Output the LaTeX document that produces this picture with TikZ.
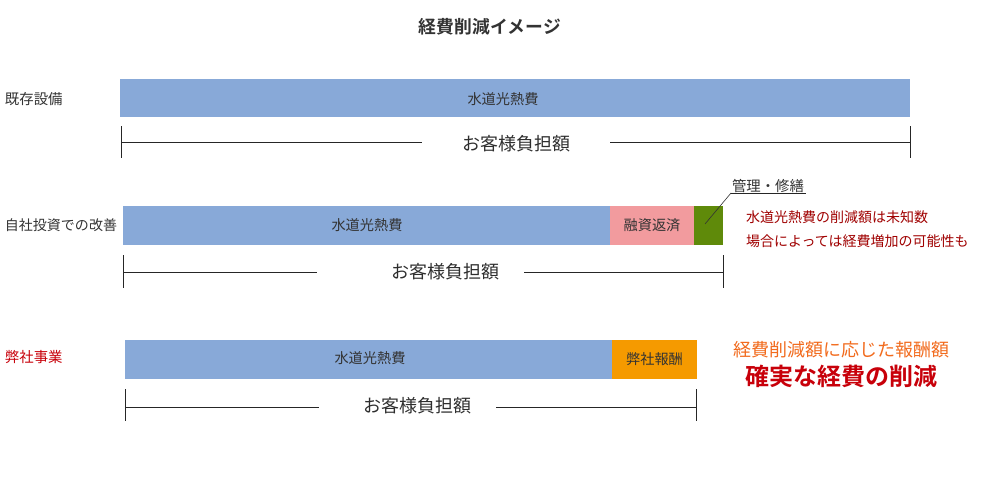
\documentclass[tikz,border=0pt]{standalone}
\usepackage{fontspec}
\newfontfamily\jp{Noto Sans CJK JP}
\newfontfamily\jpb{Noto Sans CJK JP Bold}
\definecolor{barblue}{HTML}{88A9D8}
\definecolor{barpink}{HTML}{F29B9E}
\definecolor{bargreen}{HTML}{5F8A0A}
\definecolor{barorange}{HTML}{F59A00}
\definecolor{txt}{HTML}{333333}
\definecolor{dred}{HTML}{A00000}
\definecolor{myred}{HTML}{C8000A}
\definecolor{myorange}{HTML}{F26B1D}
\begin{document}
\begin{tikzpicture}[x=1pt,y=-1pt,
  every node/.style={inner sep=0pt,outer sep=0pt,text=txt,font=\jp\fontsize{14.2}{16}\selectfont},
  barbox/.style={draw=none,minimum height=38.5pt,anchor=north west},
  bartext/.style={font=\jp\fontsize{14.2}{16}\selectfont},
  rowlabel/.style={anchor=west,font=\jp\fontsize{14.4}{16}\selectfont},
  totlabel/.style={font=\jp\fontsize{18}{20}\selectfont,text=txt!90!black},
  dimline/.style={draw=black!85,line width=1pt}]
\useasboundingbox (0,0) rectangle (1000,500);
\fill[white] (0,0) rectangle (1000,500);
\node (title) at (490,27) {\jpb\fontsize{17.8}{20}\selectfont 経費削減イメージ};

% row 1
\node[rowlabel] (l1) at (5,99) {既存設備};
\node[barbox,fill=barblue,minimum width=790pt] (b1) at (120,79) {};
\node[bartext] at (503,99) {水道光熱費};
\coordinate (d1a) at (121,126);
\coordinate (d1b) at (121,158);
\coordinate (d1c) at (910,126);
\coordinate (d1d) at (910,158);
\node[totlabel] (t1) at (516,144) {お客様負担額};
\draw[dimline] (d1a) -- (d1b) (d1c) -- (d1d);
\draw[dimline] (121,142) -- (422,142) (610,142) -- (910,142);

% row 2
\node[rowlabel,font=\jp\fontsize{14}{16}\selectfont] (l2) at (5,225) {自社投資での改善};
\node[barbox,fill=barblue,minimum width=487pt] (b2) at (123,206) {};
\node[barbox,fill=barpink,minimum width=84pt] (b2p) at (610,206) {};
\node[barbox,fill=bargreen,minimum width=29pt] (b2g) at (694,206) {};
\node[bartext] at (367,225) {水道光熱費};
\node[bartext] at (b2p.center) {融資返済};
\node[anchor=west,font=\jp\fontsize{14.4}{16}\selectfont] (kanri) at (732,186) {管理・修繕};
\coordinate (k1) at (705,224);
\coordinate (k2) at (731,193);
\coordinate (k3) at (806,193);
\draw[black!80,line width=0.6pt] (k1) -- (k2);
\draw[black!85,line width=1pt] (k2) -- (k3);
\node[anchor=west,text=dred,font=\jp\fontsize{14}{16}\selectfont] (n1) at (746,217) {水道光熱費の削減額は未知数};
\node[anchor=west,text=dred,font=\jp\fontsize{14}{16}\selectfont] (n2) at (746,241) {場合によっては経費増加の可能性も};
\node[totlabel] (t2) at (445,272) {お客様負担額};
\draw[dimline] (123,255) -- (123,288) (723,255) -- (723,288);
\draw[dimline] (123,272) -- (317,272) (524,272) -- (723,272);

% row 3
\node[rowlabel,text=myred] (l3) at (5,357) {弊社事業};
\node[barbox,fill=barblue,minimum width=487pt] (b3) at (125,340) {};
\node[barbox,fill=barorange,minimum width=85pt] (b3o) at (612,340) {};
\node[bartext] at (370,358) {水道光熱費};
\node[bartext] at (b3o.center) {弊社報酬};
\node[text=myorange,font=\jp\fontsize{18}{20}\selectfont] (o1) at (841,350) {経費削減額に応じた報酬額};
\node[text=myred,font=\jpb\fontsize{24}{26}\selectfont] (o2) at (841,376) {確実な経費の削減};
\node[totlabel] (t3) at (417,406) {お客様負担額};
\draw[dimline] (125,389) -- (125,421) (696,389) -- (696,421);
\draw[dimline] (125,407) -- (319,407) (496,407) -- (696,407);
\end{tikzpicture}
\end{document}
